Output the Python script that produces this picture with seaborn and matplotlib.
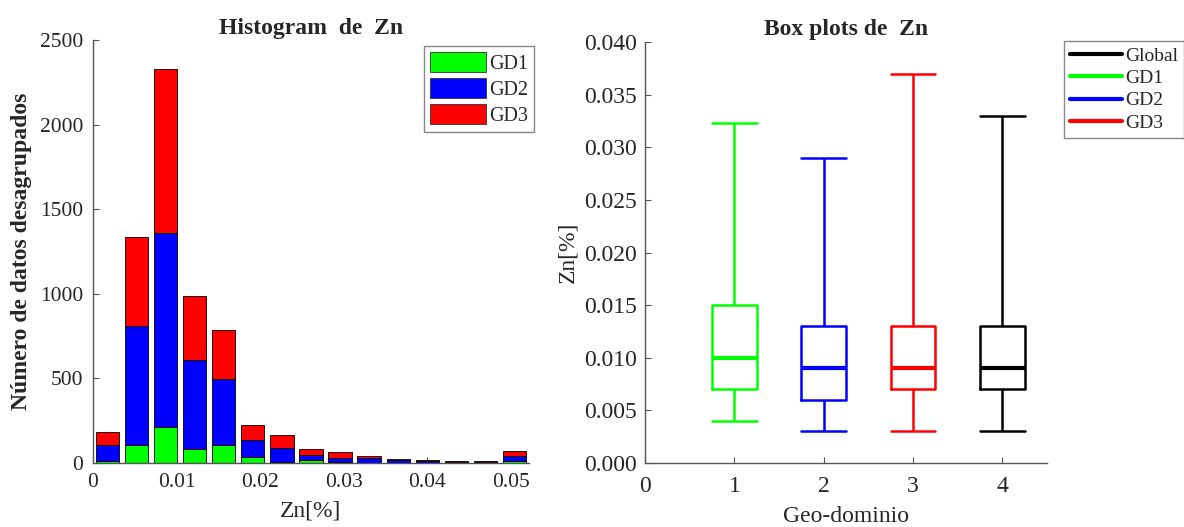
import numpy as np
import pandas as pd
import matplotlib
matplotlib.use("Agg")
import matplotlib.pyplot as plt
from matplotlib.patches import Patch
from matplotlib.lines import Line2D
import seaborn as sns

# ---------------- data ----------------
groups = ["GD1", "GD2", "GD3"]
group_colors = ["#00ff00", "#0000ff", "#ff0000"]

bin_edges = [0.0, 0.00348, 0.00696, 0.01044, 0.01392, 0.0174, 0.02088, 0.02436,
             0.02784, 0.03132, 0.0348, 0.03828, 0.04176, 0.04524, 0.04872, 0.0522]
counts_gd1 = [14, 106, 214, 84, 104, 37, 8, 18, 5, 2, 1, 1, 0, 0, 9]
counts_gd2 = [94, 701, 1143, 524, 390, 102, 82, 28, 24, 28, 17, 13, 4, 8, 31]
counts_gd3 = [75, 528, 972, 378, 293, 83, 75, 34, 35, 12, 8, 6, 6, 3, 33]

box_labels = ["GD1", "GD2", "GD3", "Global"]
box_positions = [1, 2, 3, 4]
box_colors = ["#00ff00", "#0000ff", "#ff0000", "#000000"]
box_whislo = [0.004, 0.003, 0.003, 0.003]
box_q1 = [0.007, 0.006, 0.007, 0.007]
box_med = [0.010, 0.009, 0.009, 0.009]
box_q3 = [0.015, 0.013, 0.013, 0.013]
box_whishi = [0.0323, 0.029, 0.037, 0.033]

legend2_order = ["Global", "GD1", "GD2", "GD3"]

hist_xticks = [0, 0.01, 0.02, 0.03, 0.04, 0.05]
hist_xticklabels = ["0", "0.01", "0.02", "0.03", "0.04", "0.05"]
hist_yticks = [0, 500, 1000, 1500, 2000, 2500]
box_yticks = [0.000, 0.005, 0.010, 0.015, 0.020, 0.025, 0.030, 0.035, 0.040]
box_xticks = [0, 1, 2, 3, 4]

# ---------------- style ----------------
sns.set_style("ticks")
SERIF = ["Liberation Serif", "DejaVu Serif"]
plt.rcParams["font.family"] = SERIF
plt.rcParams["font.serif"] = SERIF
plt.rcParams["xtick.direction"] = "in"
plt.rcParams["ytick.direction"] = "in"
spine_col = "#555555"

fig = plt.figure(figsize=(11.84, 5.27), dpi=100)
ax1 = fig.add_axes([0.0785, 0.1214, 0.3683, 0.8026])
ax2 = fig.add_axes([0.5448, 0.1214, 0.3395, 0.7989])

# ---------------- histogram ----------------
centers = [(bin_edges[i] + bin_edges[i + 1]) / 2 for i in range(len(bin_edges) - 1)]
hist_df = pd.DataFrame({
    "Zn": centers * 3,
    "count": counts_gd1 + counts_gd2 + counts_gd3,
    "grupo": ["GD1"] * len(centers) + ["GD2"] * len(centers) + ["GD3"] * len(centers),
})
sns.histplot(data=hist_df, x="Zn", weights="count", hue="grupo",
             hue_order=groups[::-1], palette=dict(zip(groups, group_colors)),
             bins=bin_edges, multiple="stack", shrink=0.8, alpha=1,
             edgecolor="black", linewidth=0.6, legend=False, ax=ax1)
ax1.set_xlim(0, 0.0522)
ax1.set_ylim(0, 2500)
ax1.set_xticks(hist_xticks)
ax1.set_xticklabels(hist_xticklabels, fontfamily=SERIF)
ax1.set_yticks(hist_yticks)
ax1.set_yticklabels([str(t) for t in hist_yticks], fontfamily=SERIF)
ax1.tick_params(axis="both", labelsize=15.5, length=4, color=spine_col)
ax1.tick_params(axis="x", pad=7)
ax1.tick_params(axis="y", pad=7)
ax1.set_title("Histogram  de  Zn", fontsize=17, fontweight="bold", pad=4)
ax1.set_ylabel("Número de datos desagrupados", fontsize=17, fontweight="bold", labelpad=6)
ax1.set_xlabel("Zn[%]", fontsize=17, labelpad=6)
handles1 = [Patch(facecolor=c, edgecolor="#333333", linewidth=0.6) for c in group_colors]
leg1 = ax1.legend(handles1, groups, loc="upper right", bbox_to_anchor=(1.012, 0.985),
                  prop={"family": SERIF, "size": 14.5}, handlelength=2.8, handleheight=1.1,
                  handletextpad=0.15, labelspacing=0.22, borderpad=0.3, borderaxespad=0,
                  fancybox=False, framealpha=1, edgecolor="#888888")
leg1.get_frame().set_linewidth(1.0)

# ---------------- box plots ----------------
rows = []
for lab, pos, lo, q1, med, q3, hi in zip(box_labels, box_positions, box_whislo,
                                         box_q1, box_med, box_q3, box_whishi):
    for v in (lo, q1, med, q3, hi):
        rows.append({"pos": pos, "val": v, "grupo": lab})
box_df = pd.DataFrame(rows)
sns.boxplot(data=box_df, x="pos", y="val", hue="grupo", hue_order=box_labels,
            palette=dict(zip(box_labels, box_colors)), fill=False, native_scale=True,
            dodge=False, width=0.5, whis=(0, 100), linewidth=1.8,
            medianprops={"linewidth": 3.0}, legend=False, ax=ax2)
# widen caps to the box width
for ln in ax2.lines:
    xd = np.asarray(ln.get_xdata(), dtype=float)
    yd = np.asarray(ln.get_ydata(), dtype=float)
    if len(xd) == 2 and yd[0] == yd[1] and abs(abs(xd[1] - xd[0]) - 0.25) < 1e-6:
        c = xd.mean()
        ln.set_xdata([c - 0.25, c + 0.25])

ax2.set_xlim(0, 4.5)
ax2.set_ylim(0, 0.040)
ax2.set_xticks(box_xticks)
ax2.set_xticklabels([str(t) for t in box_xticks], fontfamily=SERIF)
ax2.set_yticks(box_yticks)
ax2.set_yticklabels([f"{t:.3f}" for t in box_yticks], fontfamily=SERIF)
ax2.tick_params(axis="both", labelsize=17, length=4, color=spine_col)
ax2.tick_params(axis="x", pad=9)
ax2.tick_params(axis="y", pad=6)
ax2.set_title("Box plots de  Zn", fontsize=17, fontweight="bold", pad=5)
ax2.set_ylabel("Zn[%]", fontsize=17, labelpad=4)
ax2.set_xlabel("Geo-dominio", fontsize=17, labelpad=7)

color_of = dict(zip(box_labels, box_colors))
handles2 = [Line2D([0], [0], color=color_of[k], linewidth=3) for k in legend2_order]
leg2 = fig.legend(handles2, legend2_order, loc="upper left", bbox_to_anchor=(0.8986, 0.922),
                  prop={"family": SERIF, "size": 14}, handlelength=2.7, handletextpad=0.15,
                  labelspacing=0.25, borderpad=0.3, borderaxespad=0, fancybox=False,
                  framealpha=1, edgecolor="#888888")
leg2.get_frame().set_linewidth(1.0)

for ax in (ax1, ax2):
    sns.despine(ax=ax)
    for s in ("left", "bottom"):
        ax.spines[s].set_color(spine_col)
        ax.spines[s].set_linewidth(1.0)
    for lab in ax.get_xticklabels() + ax.get_yticklabels():
        lab.set_fontfamily(SERIF)

fig.savefig("out.png", dpi=100)
